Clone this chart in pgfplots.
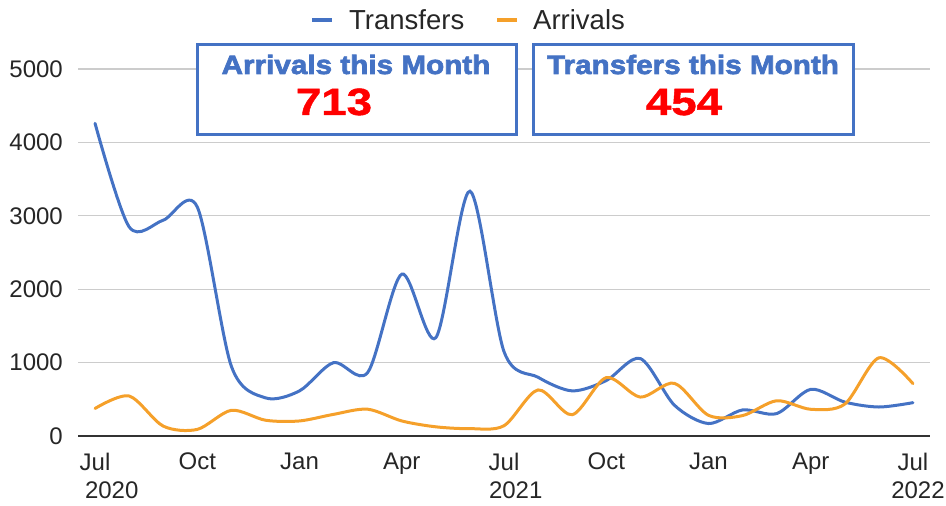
\documentclass[border=0pt]{standalone}
\usepackage{fontspec}
\setmainfont{Liberation Sans}
\newfontfamily\heavyfont[FakeStretch=1.12,FakeBold=2.6]{Liberation Sans Bold}
\newfontfamily\numfont[FakeStretch=1.2,FakeBold=1.2]{Liberation Sans Bold}
\usepackage{pgfplots}
\pgfplotsset{compat=1.18}
\definecolor{gblue}{HTML}{4472C4}
\definecolor{gorange}{HTML}{F5A02A}
\definecolor{gridgray}{HTML}{CCCCCC}
\definecolor{boxred}{HTML}{FF0000}

% month index 0 = Jul 2020 ... 24 = Jul 2022
\pgfplotstableread{
m  transfers arrivals
0  4260 375
1  2850 545
2  2940 135
3  3120 90
4  950  350
5  520  215
6  615  205
7  1000 295
8  865  365
9  2205 205
10 1340 125
11 3335 100
12 1150 140
13 800  628
14 615  290
15 755  795
16 1055 530
17 420  718
18 170  282
19 355  278
20 305  480
21 636  364
22 462  435
23 395  1065
24 454  713
}\flows

\begin{document}
\begin{tikzpicture}
\begin{axis}[
  at={(78bp,70bp)}, anchor=south west,
  scale only axis,
  width=852bp, height=367bp,
  xmin=-0.5, xmax=24.5,
  ymin=0, ymax=5000,
  axis x line=bottom, axis y line=left,
  x axis line style={-, draw=black!80, line width=1.8bp},
  y axis line style={draw=none},
  major tick length=0pt,
  ytick={0,1000,...,5000},
  ymajorgrids,
  grid style={draw=gridgray, line width=1.3bp},
  xtick={0,3,...,24},
  xticklabels={Jul\\\rlap{\hspace{-10bp}2020}, Oct, Jan, Apr, Jul\\\rlap{\hspace{-15bp}2021}, Oct, Jan, Apr, Jul\\\makebox[0pt]{\hspace{10bp}2022}},
  xticklabel style={anchor=north, inner sep=0pt, yshift=-17bp, align=center,
    font=\fontsize{24bp}{28bp}\selectfont, text=black!85},
  yticklabel style={anchor=east, inner sep=0pt, xshift=-15bp,
    font=\fontsize{24bp}{28bp}\selectfont, text=black!85},
  /pgf/number format/assume math mode=true,
  /pgf/number format/1000 sep={},
  scaled y ticks=false,
  clip=false,
]
\addplot[gblue, line width=3bp, smooth, tension=0.5, line cap=round] table[x=m, y=transfers] {\flows};
\addplot[gorange, line width=3bp, smooth, tension=0.5, line cap=round] table[x=m, y=arrivals] {\flows};
\end{axis}

% legend
\draw[gblue, line width=4.5bp] (312bp,486bp) -- (332bp,486bp);
\node[anchor=west, inner sep=0pt, font=\fontsize{27.5bp}{30bp}\selectfont, text=black!85] at (349bp,486bp) {Transfers};
\draw[gorange, line width=4.5bp] (497bp,486bp) -- (517bp,486bp);
\node[anchor=west, inner sep=0pt, font=\fontsize{27.5bp}{30bp}\selectfont, text=black!85] at (533bp,486bp) {Arrivals};

% summary boxes
\draw[gblue, line width=3bp, fill=white] (197bp,461bp) rectangle (516bp,371bp);
\draw[gblue, line width=3bp, fill=white] (533bp,461bp) rectangle (853bp,371bp);
\node[anchor=base, inner sep=0pt, text=gblue, font=\heavyfont\fontsize{26.5bp}{30bp}\selectfont] at (356bp,432bp) {Arrivals this Month};
\node[anchor=base, inner sep=0pt, text=gblue, font=\heavyfont\fontsize{26.5bp}{30bp}\selectfont] at (693bp,432bp) {Transfers this Month};
\node[anchor=base, inner sep=0pt, text=boxred, font=\numfont\fontsize{38bp}{42bp}\selectfont] at (334bp,391bp) {713};
\node[anchor=base, inner sep=0pt, text=boxred, font=\numfont\fontsize{38bp}{42bp}\selectfont] at (684bp,391bp) {454};

\pgfresetboundingbox
\path (0bp,0bp) rectangle (946bp,506bp);
\end{tikzpicture}
\end{document}
